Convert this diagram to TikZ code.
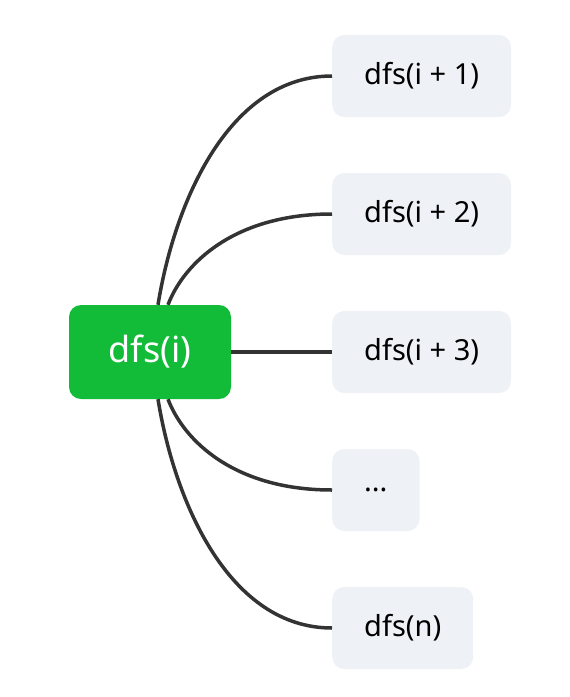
\documentclass[tikz,border=0pt]{standalone}
\usepackage{fontspec}
\setmainfont{Noto Sans}
\usetikzlibrary{positioning}
\definecolor{rootgreen}{RGB}{18,187,56}
\definecolor{leafgray}{RGB}{238,241,245}
\definecolor{linkgray}{RGB}{51,51,51}

\begin{document}
\begin{tikzpicture}[
  x=1pt, y=1pt,
  root/.style={rectangle, fill=rootgreen, rounded corners=12pt, text=white,
    minimum width=162pt, minimum height=94pt, inner sep=0pt,
    font=\fontsize{36}{40}\selectfont},
  leaf/.style={rectangle, fill=leafgray, rounded corners=12pt, anchor=west,
    minimum height=82pt, inner xsep=32pt, inner ysep=0pt,
    font=\fontsize{29}{33}\selectfont},
  link/.style={draw=linkgray, line width=3.5pt}
]
\useasboundingbox (0,0) rectangle (570,-697);
\node[root] (dfs) at (150,-352) {dfs(i)};
\node[leaf] (c1) at (332,-76) {dfs(i + 1)};
\node[leaf] (c2) at (332,-214) {dfs(i + 2)};
\node[leaf] (c3) at (332,-352) {dfs(i + 3)};
\node[leaf] (c4) at (332,-490) {...};
\node[leaf] (c5) at (332,-628) {dfs(n)};
% edges
\draw[link] ([xshift=8pt]dfs.north) .. controls +(17,105) and +(-102,0) .. (c1.west);
\draw[link] ([xshift=18pt]dfs.north) .. controls +(16,42) and +(-97,0) .. (c2.west);
\draw[link] (dfs.east) -- (c3.west);
\draw[link] ([xshift=18pt]dfs.south) .. controls +(16,-42) and +(-97,0) .. (c4.west);
\draw[link] ([xshift=8pt]dfs.south) .. controls +(17,-105) and +(-102,0) .. (c5.west);
\end{tikzpicture}
\end{document}
